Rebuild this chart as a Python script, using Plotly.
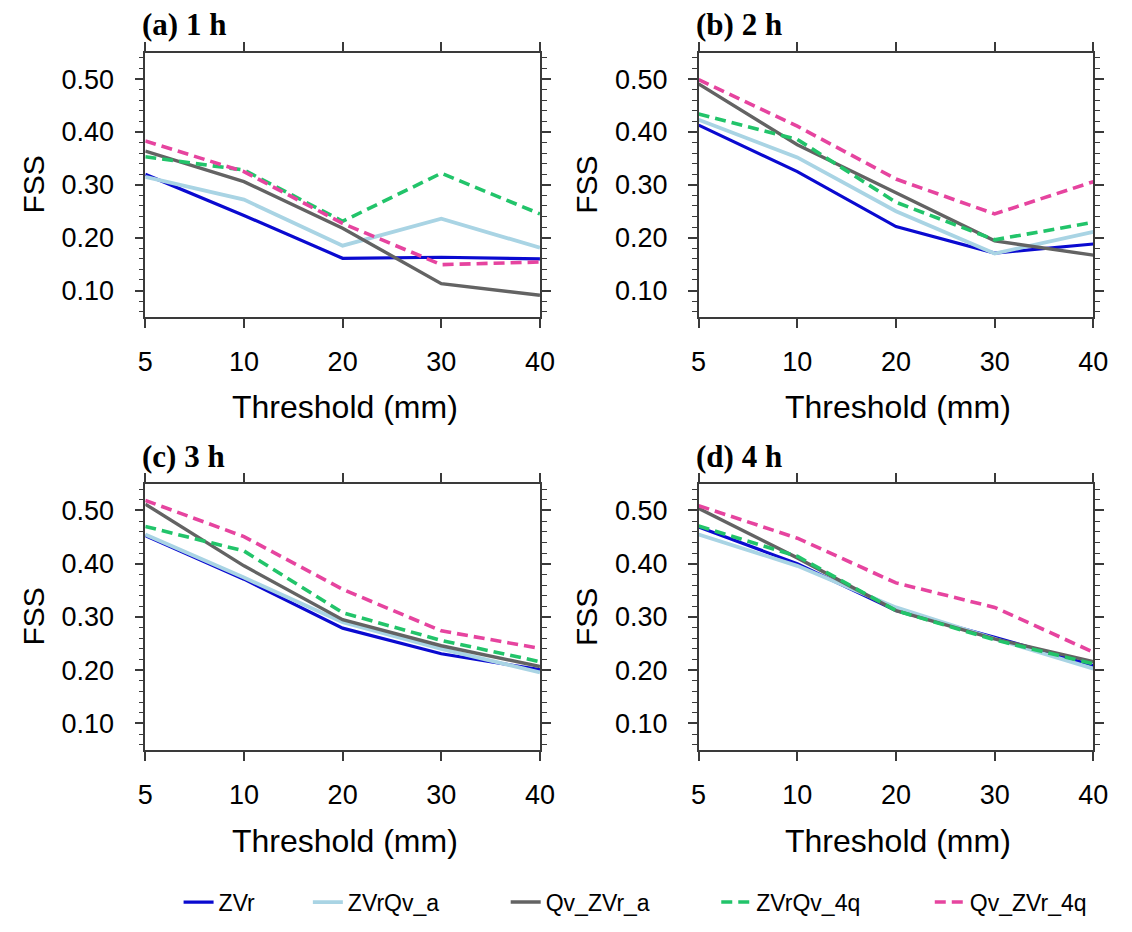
import plotly.graph_objects as go

# The page has an 8px default body margin; size the figure so the page is 1132x932.
OFF = 8
W, H = 1132 - 2 * OFF, 932 - 2 * OFF

thresholds = ["5", "10", "20", "30", "40"]
series_names = ["ZVr", "ZVrQv_a", "Qv_ZVr_a", "ZVrQv_4q", "Qv_ZVr_4q"]
panel_titles = ["(a) 1 h", "(b) 2 h", "(c) 3 h", "(d) 4 h"]

# FSS values per panel (rows follow series_names)
fss_1h_ZVr = [0.320, 0.242, 0.161, 0.163, 0.160]
fss_1h_ZVrQv_a = [0.315, 0.272, 0.185, 0.236, 0.181]
fss_1h_Qv_ZVr_a = [0.364, 0.306, 0.218, 0.113, 0.091]
fss_1h_ZVrQv_4q = [0.353, 0.328, 0.231, 0.322, 0.245]
fss_1h_Qv_ZVr_4q = [0.383, 0.325, 0.227, 0.149, 0.154]

fss_2h_ZVr = [0.413, 0.325, 0.221, 0.171, 0.188]
fss_2h_ZVrQv_a = [0.423, 0.352, 0.250, 0.170, 0.211]
fss_2h_Qv_ZVr_a = [0.491, 0.376, 0.285, 0.194, 0.167]
fss_2h_ZVrQv_4q = [0.434, 0.386, 0.267, 0.196, 0.229]
fss_2h_Qv_ZVr_4q = [0.499, 0.411, 0.311, 0.245, 0.306]

fss_3h_ZVr = [0.453, 0.371, 0.279, 0.231, 0.201]
fss_3h_ZVrQv_a = [0.455, 0.374, 0.290, 0.240, 0.196]
fss_3h_Qv_ZVr_a = [0.512, 0.396, 0.295, 0.246, 0.207]
fss_3h_ZVrQv_4q = [0.470, 0.424, 0.308, 0.256, 0.216]
fss_3h_Qv_ZVr_4q = [0.519, 0.451, 0.352, 0.274, 0.241]

fss_4h_ZVr = [0.469, 0.400, 0.312, 0.262, 0.209]
fss_4h_ZVrQv_a = [0.455, 0.396, 0.318, 0.259, 0.203]
fss_4h_Qv_ZVr_a = [0.504, 0.411, 0.312, 0.259, 0.216]
fss_4h_ZVrQv_4q = [0.471, 0.414, 0.312, 0.257, 0.212]
fss_4h_Qv_ZVr_4q = [0.509, 0.448, 0.364, 0.318, 0.234]

panels = [
    [fss_1h_ZVr, fss_1h_ZVrQv_a, fss_1h_Qv_ZVr_a, fss_1h_ZVrQv_4q, fss_1h_Qv_ZVr_4q],
    [fss_2h_ZVr, fss_2h_ZVrQv_a, fss_2h_Qv_ZVr_a, fss_2h_ZVrQv_4q, fss_2h_Qv_ZVr_4q],
    [fss_3h_ZVr, fss_3h_ZVrQv_a, fss_3h_Qv_ZVr_a, fss_3h_ZVrQv_4q, fss_3h_Qv_ZVr_4q],
    [fss_4h_ZVr, fss_4h_ZVrQv_a, fss_4h_Qv_ZVr_a, fss_4h_ZVrQv_4q, fss_4h_Qv_ZVr_4q],
]

colors = ["#0a0ad0", "#a9d4e4", "#636363", "#22c46a", "#e6449f"]
dashes = ["solid", "solid", "solid", "11px,6px", "11px,6px"]
widths = [3.2, 3.8, 3.4, 3.6, 3.6]

# layout in page pixels (reference coordinates)
col_x = [(140, 543), (705, 1108)]
row_y = [(53, 319), (487, 755)]

def px_x(v):
    return (v - OFF) / W

def px_y(v):
    return 1 - (v - OFF) / H

fig = go.Figure()
AX = "#3a3a3a"
sans = "Liberation Sans, Arial, Helvetica, sans-serif"

legend_text_x = [219, 351, 553, 768, 986]

for p in range(4):
    r, c = divmod(p, 2)
    idx = "" if p == 0 else str(p + 1)
    xa, ya = "x" + idx, "y" + idx
    for s, name in enumerate(series_names):
        fig.add_trace(go.Scatter(
            x=thresholds, y=panels[p][s], mode="lines", name=name,
            line=dict(color=colors[s], width=widths[s], dash=dashes[s]),
            xaxis=xa, yaxis=ya, showlegend=(p == 0),
            legend="legend" if s == 0 else "legend" + str(s + 1),
        ))
    x0, x1 = col_x[c]
    y0, y1 = row_y[r]
    fig.layout["xaxis" + idx] = dict(
        domain=[px_x(x0), px_x(x1)], anchor=ya, type="category",
        range=[0, 4], showline=True, linecolor=AX, linewidth=1.5,
        mirror="ticks", ticks="outside", ticklen=9, tickwidth=1.5, tickcolor=AX,
        showgrid=False, zeroline=False,
        tickfont=dict(family=sans, size=27, color="black"),
        ticklabelstandoff=11,
    )
    fig.layout["yaxis" + idx] = dict(
        domain=[px_y(y1), px_y(y0)], anchor=xa,
        range=[0.05, 0.55], tick0=0, dtick=0.1, tickformat=".2f",
        showline=True, linecolor=AX, linewidth=1.5,
        mirror="ticks", ticks="outside", ticklen=9, tickwidth=1.5, tickcolor=AX,
        minor=dict(dtick=0.02, tick0=0, ticks="outside", ticklen=5, tickwidth=1.2,
                   tickcolor=AX, showgrid=False),
        showgrid=False, zeroline=False,
        tickfont=dict(family=sans, size=27, color="black"),
        ticklabelstandoff=15,
    )
    # panel title
    fig.add_annotation(
        text="<b>%s</b>" % panel_titles[p], xref="paper", yref="paper",
        x=px_x(x0 - 5), y=px_y(y0 - 28), xanchor="left", yanchor="middle",
        showarrow=False, font=dict(family="Liberation Serif, Times New Roman, serif",
                                   size=31, color="black"),
    )
    # y title
    fig.add_annotation(
        text="FSS", textangle=-90, xref="paper", yref="paper",
        x=px_x(x0 - 114), y=px_y((y0 + y1) / 2), xanchor="center", yanchor="middle",
        showarrow=False, font=dict(family=sans, size=30, color="black"),
    )
    # x title
    fig.add_annotation(
        text="Threshold (mm)", xref="paper", yref="paper",
        x=px_x((x0 + x1) / 2 + 2), y=px_y(y1 + 91), xanchor="center", yanchor="middle",
        showarrow=False, font=dict(family=sans, size=32, color="black"),
    )

legend_common = dict(orientation="h", yanchor="middle", y=px_y(908), xanchor="left",
                     font=dict(family=sans, size=23, color="black"),
                     bgcolor="rgba(0,0,0,0)", borderwidth=0)
fig.update_layout(legend=dict(x=px_x(legend_text_x[0] - 45), **legend_common))
for s in range(1, 5):
    fig.layout["legend" + str(s + 1)] = dict(x=px_x(legend_text_x[s] - 45), **legend_common)

fig.update_layout(
    width=W, height=H, margin=dict(l=0, r=0, t=0, b=0),
    paper_bgcolor="white", plot_bgcolor="white",
)

fig.write_html("out.html", config={"displayModeBar": False})
